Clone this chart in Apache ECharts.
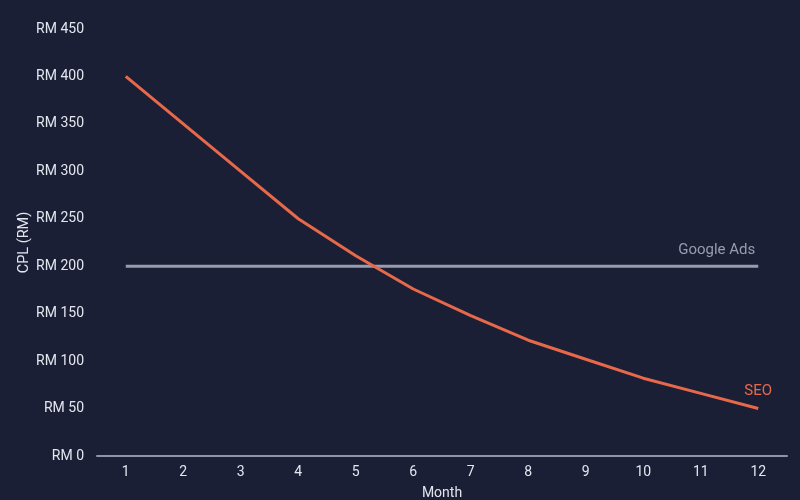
<!DOCTYPE html>
<html>
<head>
<meta charset="utf-8">
<script src="https://cdn.jsdelivr.net/npm/echarts@6/dist/echarts.min.js"></script>
<style>
  html, body { margin: 0; padding: 0; background: #1b1f35; }
  #chart { width: 800px; height: 500px; }
</style>
</head>
<body>
<div id="chart"></div>
<script>
const months = ["1", "2", "3", "4", "5", "6", "7", "8", "9", "10", "11", "12"];
const seoCpl = [400, 350, 300, 250, 211, 176, 148, 122, 102, 82, 66, 50];
const googleAdsCpl = [200, 200, 200, 200, 200, 200, 200, 200, 200, 200, 200, 200];
const yTicks = { min: 0, max: 450, interval: 50 };

const textColor = "#e4e6ee";
const seoColor = "#e8694a";
const adsColor = "#979dad";

// series name drawn just above the last point of the line
function endLabel(color, align, offset) {
  return {
    show: true,
    formatter: "{a}",
    align: align,
    offset: offset,
    color: color,
    fontSize: 15,
    fontFamily: "Roboto",
  };
}

const chart = echarts.init(document.getElementById("chart"));
chart.setOption({
  backgroundColor: "#1b1f35",
  animation: false,
  grid: { left: 97, right: 13, top: 29, bottom: 44, outerBoundsMode: "none" },
  xAxis: {
    type: "category",
    data: months,
    boundaryGap: true,
    name: "Month",
    nameLocation: "middle",
    nameGap: 30,
    nameMoveOverlap: false,
    nameTextStyle: { color: textColor, fontSize: 14, fontFamily: "Roboto" },
    axisLine: { lineStyle: { color: "#8f95a8", width: 2 } },
    axisTick: { show: false },
    axisLabel: { color: textColor, fontSize: 14, fontFamily: "Roboto", margin: 9 },
    splitLine: { show: false },
  },
  yAxis: {
    type: "value",
    min: yTicks.min,
    max: yTicks.max,
    interval: yTicks.interval,
    name: "CPL (RM)",
    nameLocation: "middle",
    nameGap: 65,
    nameMoveOverlap: false,
    nameRotate: 90,
    nameTextStyle: { color: textColor, fontSize: 14.5, fontFamily: "Roboto" },
    axisLine: { show: false },
    axisTick: { show: false },
    axisLabel: {
      color: textColor,
      fontSize: 14,
      fontFamily: "Roboto",
      margin: 13,
      formatter: (v) => "RM " + v,
    },
    splitLine: { show: false },
  },
  series: [
    {
      name: "Google Ads",
      type: "line",
      data: googleAdsCpl,
      symbol: "none",
      lineStyle: { color: adsColor, width: 3 },
      itemStyle: { color: adsColor },
      endLabel: endLabel(adsColor, "right", [-11, -16]),
    },
    {
      name: "SEO",
      type: "line",
      data: seoCpl,
      symbol: "none",
      lineStyle: { color: seoColor, width: 3 },
      itemStyle: { color: seoColor },
      endLabel: endLabel(seoColor, "center", [-8, -17]),
    },
  ],
});
</script>
</body>
</html>
